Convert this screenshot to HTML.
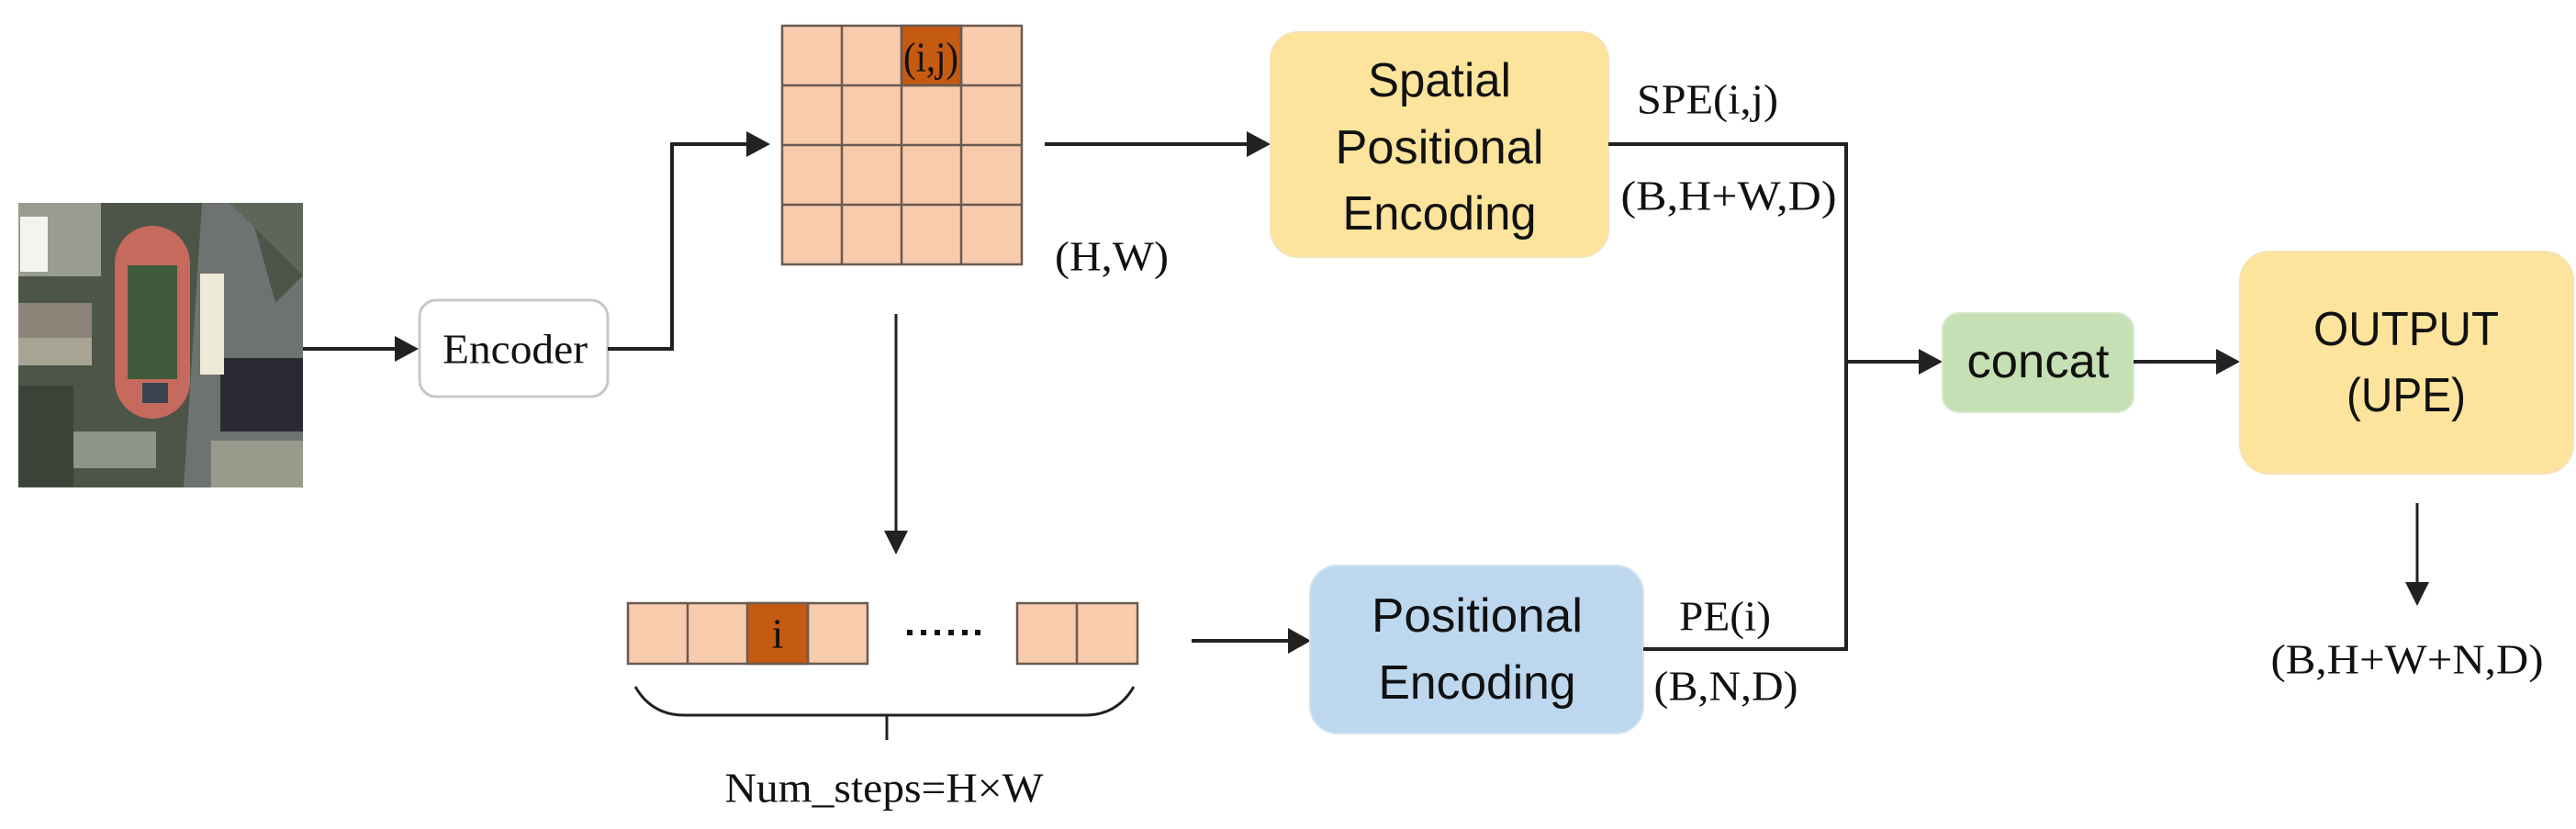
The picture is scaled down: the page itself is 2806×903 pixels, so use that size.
<!DOCTYPE html>
<html><head><meta charset="utf-8"><style>
html,body{margin:0;padding:0;background:#fff;}
svg{display:block;}
.t{font-family:"Liberation Serif",serif;font-size:46px;fill:#111;}
.s{font-family:"Liberation Sans",sans-serif;font-size:52px;fill:#111;}
</style></head><body>
<svg width="2806" height="903" viewBox="0 0 2806 903" xmlns="http://www.w3.org/2000/svg">
<defs>
<clipPath id="imgc"><rect x="20" y="221" width="310" height="310"/></clipPath>
</defs>

<!-- satellite image approximation -->
<g clip-path="url(#imgc)">
<rect x="20" y="221" width="310" height="310" fill="#4d5448"/>
<rect x="20" y="221" width="90" height="80" fill="#9a9c92"/>
<rect x="22" y="236" width="30" height="60" fill="#f2f4f0"/>
<rect x="20" y="330" width="80" height="40" fill="#8c8478"/>
<rect x="20" y="368" width="80" height="30" fill="#a8a494"/>
<rect x="80" y="470" width="90" height="40" fill="#8f9488"/>
<rect x="20" y="420" width="60" height="110" fill="#3b4238"/>
<path d="M220 221 L270 221 L300 330 L330 300 L330 531 L200 531 Z" fill="#6e7372"/>
<path d="M250 221 L330 221 L330 300 Z" fill="#5d6658"/>
<rect x="240" y="390" width="90" height="80" fill="#2a2a33"/>
<rect x="230" y="480" width="100" height="51" fill="#9a9a8c"/>
<rect x="218" y="298" width="26" height="110" fill="#ece9d6"/>
<rect x="125" y="246" width="82" height="210" rx="41" fill="#c56a5c"/>
<rect x="139" y="289" width="54" height="124" fill="#3f5a3a"/>
<rect x="155" y="417" width="28" height="22" fill="#3a4450"/>
</g>

<!-- image -> encoder -->
<line x1="330" y1="380" x2="432" y2="380" stroke="#222" stroke-width="4"/>
<polygon points="430,366 456,380 430,394" fill="#222"/>
<rect x="457" y="327" width="205" height="105" rx="18" fill="#fff" stroke="#c8c8c8" stroke-width="3"/>
<text class="t" x="561" y="380" text-anchor="middle" dominant-baseline="central" textLength="158" lengthAdjust="spacingAndGlyphs">Encoder</text>

<!-- encoder -> grid -->
<polyline points="662,380 732,380 732,157 815,157" fill="none" stroke="#222" stroke-width="4"/>
<polygon points="813,143 839,157 813,171" fill="#222"/>

<!-- grid -->
<g stroke="#6b5a50" stroke-width="2.5">
<rect x="852" y="28" width="261" height="260" fill="#f8cbad"/>
<rect x="982" y="28" width="65" height="65" fill="#c55a11"/>
<line x1="917" y1="28" x2="917" y2="288"/><line x1="982" y1="28" x2="982" y2="288"/><line x1="1047" y1="28" x2="1047" y2="288"/>
<line x1="852" y1="93" x2="1113" y2="93"/><line x1="852" y1="158" x2="1113" y2="158"/><line x1="852" y1="223" x2="1113" y2="223"/>
</g>
<text class="t" x="1014" y="62" text-anchor="middle" dominant-baseline="central" textLength="60" lengthAdjust="spacingAndGlyphs">(i,j)</text>
<text class="t" x="1211" y="279" text-anchor="middle" dominant-baseline="central" textLength="124" lengthAdjust="spacingAndGlyphs">(H,W)</text>

<!-- grid -> SPE -->
<line x1="1138" y1="157" x2="1360" y2="157" stroke="#222" stroke-width="4"/>
<polygon points="1358,143 1384,157 1358,171" fill="#222"/>
<rect x="1384" y="35" width="368" height="245" rx="30" fill="#fde49c" stroke="#f4e3b5" stroke-width="2"/>
<text class="s" x="1568" y="88" text-anchor="middle" dominant-baseline="central" textLength="156" lengthAdjust="spacingAndGlyphs">Spatial</text>
<text class="s" x="1568" y="161" text-anchor="middle" dominant-baseline="central" textLength="227" lengthAdjust="spacingAndGlyphs">Positional</text>
<text class="s" x="1568" y="233" text-anchor="middle" dominant-baseline="central" textLength="211" lengthAdjust="spacingAndGlyphs">Encoding</text>
<text class="t" x="1860" y="108" text-anchor="middle" dominant-baseline="central" textLength="154" lengthAdjust="spacingAndGlyphs">SPE(i,j)</text>
<text class="t" x="1883" y="213" text-anchor="middle" dominant-baseline="central" textLength="235" lengthAdjust="spacingAndGlyphs">(B,H+W,D)</text>

<!-- down arrow grid -> seq -->
<line x1="976" y1="342" x2="976" y2="580" stroke="#222" stroke-width="3"/>
<polygon points="963,578 989,578 976,604" fill="#222"/>

<!-- sequence -->
<g stroke="#6b5a50" stroke-width="2.5">
<rect x="684" y="657" width="261" height="66" fill="#f8cbad"/>
<rect x="814" y="657" width="66" height="66" fill="#c55a11"/>
<line x1="749" y1="657" x2="749" y2="723"/><line x1="880" y1="657" x2="880" y2="723"/>
<rect x="1108" y="657" width="131" height="66" fill="#f8cbad"/>
<line x1="1173" y1="657" x2="1173" y2="723"/>
</g>
<text class="t" x="847" y="690" text-anchor="middle" dominant-baseline="central">i</text>
<g fill="#111"><rect x="988" y="686" width="6" height="6"/><rect x="1003" y="686" width="6" height="6"/><rect x="1018" y="686" width="6" height="6"/><rect x="1033" y="686" width="6" height="6"/><rect x="1048" y="686" width="6" height="6"/><rect x="1062" y="686" width="6" height="6"/></g>
<path d="M692 748 Q710 779 745 779 L1182 779 Q1217 779 1235 748" fill="none" stroke="#222" stroke-width="3"/>
<line x1="966" y1="779" x2="966" y2="806" stroke="#222" stroke-width="3"/>
<text class="t" x="963" y="858" text-anchor="middle" dominant-baseline="central" textLength="347" lengthAdjust="spacingAndGlyphs">Num_steps=H×W</text>

<!-- seq -> PE -->
<line x1="1298" y1="698" x2="1405" y2="698" stroke="#222" stroke-width="4"/>
<polygon points="1403,684 1428,698 1403,712" fill="#222"/>
<rect x="1427" y="616" width="363" height="183" rx="30" fill="#bdd7ee" stroke="#d3e2f0" stroke-width="2"/>
<text class="s" x="1609" y="671" text-anchor="middle" dominant-baseline="central" textLength="230" lengthAdjust="spacingAndGlyphs">Positional</text>
<text class="s" x="1609" y="744" text-anchor="middle" dominant-baseline="central" textLength="215" lengthAdjust="spacingAndGlyphs">Encoding</text>
<text class="t" x="1879" y="671" text-anchor="middle" dominant-baseline="central" textLength="100" lengthAdjust="spacingAndGlyphs">PE(i)</text>
<text class="t" x="1880" y="747" text-anchor="middle" dominant-baseline="central" textLength="157" lengthAdjust="spacingAndGlyphs">(B,N,D)</text>

<!-- merge lines -->
<polyline points="1752,157 2011,157 2011,707 1790,707" fill="none" stroke="#222" stroke-width="4"/>
<line x1="2011" y1="394" x2="2092" y2="394" stroke="#222" stroke-width="4"/>
<polygon points="2090,380 2116,394 2090,408" fill="#222"/>
<rect x="2116" y="341" width="208" height="108" rx="18" fill="#c5e0b4" stroke="#d6e8cb" stroke-width="2"/>
<text class="s" x="2220" y="394" text-anchor="middle" dominant-baseline="central" textLength="155" lengthAdjust="spacingAndGlyphs">concat</text>
<line x1="2324" y1="394" x2="2416" y2="394" stroke="#222" stroke-width="4"/>
<polygon points="2414,380 2440,394 2414,408" fill="#222"/>
<rect x="2440" y="274" width="363" height="242" rx="32" fill="#fde49c" stroke="#f4e3b5" stroke-width="2"/>
<text class="s" x="2621" y="359" text-anchor="middle" dominant-baseline="central" textLength="202" lengthAdjust="spacingAndGlyphs">OUTPUT</text>
<text class="s" x="2621" y="431" text-anchor="middle" dominant-baseline="central" textLength="130" lengthAdjust="spacingAndGlyphs">(UPE)</text>

<line x1="2633" y1="548" x2="2633" y2="636" stroke="#222" stroke-width="3"/>
<polygon points="2620,634 2646,634 2633,660" fill="#222"/>
<text class="t" x="2622" y="718" text-anchor="middle" dominant-baseline="central" textLength="297" lengthAdjust="spacingAndGlyphs">(B,H+W+N,D)</text>
</svg>
</body></html>
